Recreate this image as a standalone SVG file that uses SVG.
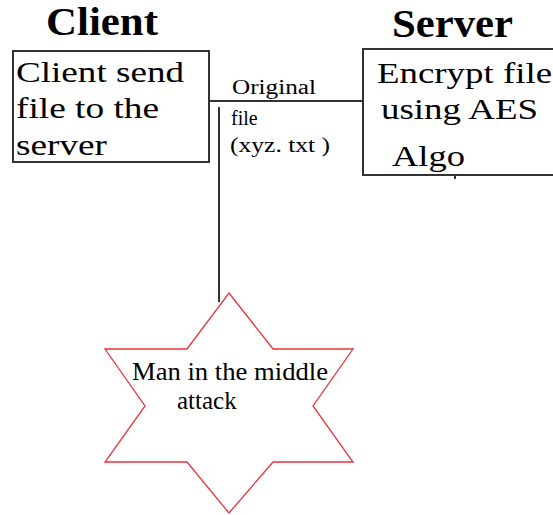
<svg xmlns="http://www.w3.org/2000/svg" width="553" height="515" viewBox="0 0 553 515">
<style>
text{fill:#000}
.title{font-size:40px;font-weight:bold}
.box{fill:#fff;stroke:#333;stroke-width:2}
.big{font-size:30px}
.lbl{font-size:20px}
.line{stroke:#333;stroke-width:2;fill:none}
.star{fill:#fff;stroke:#e8333a;stroke-width:1.3}
.st{font-size:25px}
</style>
<rect width="553" height="515" fill="#fff"/>
<g id="connectors">
<line class="line" x1="210" y1="101" x2="363" y2="101"/>
<line class="line" x1="219" y1="107" x2="219" y2="302"/>
<line class="line" x1="455" y1="175" x2="455" y2="179" stroke-width="1"/>
</g>
<g font-family="'Liberation Serif', 'Times New Roman', serif">
<g id="client">
<text class="title" x="46" y="35" textLength="112" lengthAdjust="spacingAndGlyphs">Client</text>
<rect class="box" x="13" y="51" width="196" height="111"/>
<text class="big" x="16" y="82" textLength="168" lengthAdjust="spacingAndGlyphs">Client send</text>
<text class="big" x="16" y="118" textLength="143" lengthAdjust="spacingAndGlyphs">file to the</text>
<text class="big" x="16" y="155" textLength="91" lengthAdjust="spacingAndGlyphs">server</text>
</g>
<g id="label">
<text class="lbl" x="232" y="94" textLength="84" lengthAdjust="spacingAndGlyphs">Original</text>
<text class="lbl" x="231" y="125">file</text>
<text class="lbl" x="230" y="152" textLength="100" lengthAdjust="spacingAndGlyphs">(xyz. txt )</text>
</g>
<g id="server">
<text class="title" x="392" y="37" textLength="121" lengthAdjust="spacingAndGlyphs">Server</text>
<rect class="box" x="363" y="49" width="195" height="126"/>
<text class="big" x="377" y="83" textLength="175" lengthAdjust="spacingAndGlyphs">Encrypt file</text>
<text class="big" x="381" y="119" textLength="157" lengthAdjust="spacingAndGlyphs">using AES</text>
<text class="big" x="392" y="166" textLength="73" lengthAdjust="spacingAndGlyphs">Algo</text>
</g>
<g id="attack">
<polygon class="star" points="229,293 273,349 353,349 313,406 353,462 273,462 229,513 187,462 105,462 145,406 105,349 187,349"/>
<text class="st" x="132" y="380" textLength="196" lengthAdjust="spacingAndGlyphs">Man in the middle</text>
<text class="st" x="177" y="409">attack</text>
</g>
</g>
</svg>
